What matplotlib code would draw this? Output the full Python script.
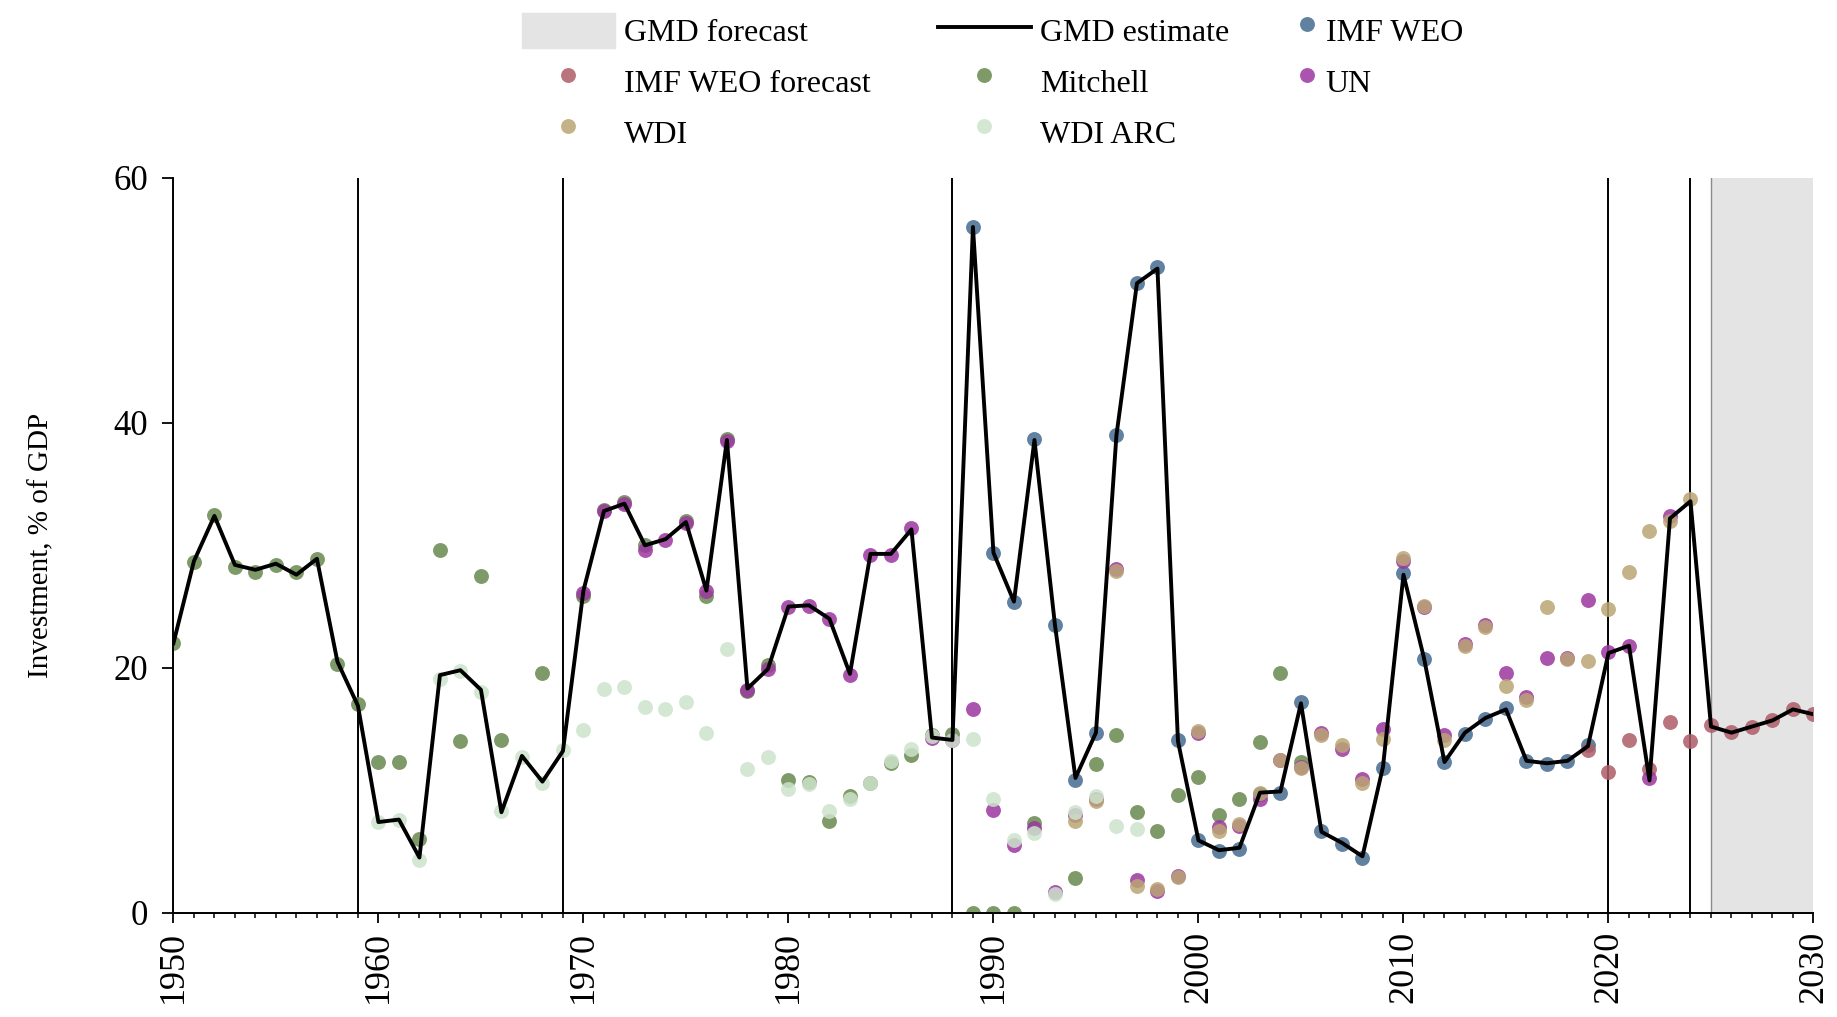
import matplotlib.pyplot as plt
import numpy as np

plt.rcParams['font.family'] = ['Liberation Serif', 'DejaVu Serif']

# GMD estimate, one value per year 1950..2030
gmd_years = np.arange(1950, 2031)
gmd = [22.0, 28.7, 32.4, 28.4, 28.0, 28.5, 27.6, 28.9, 20.5, 16.9,
       7.4, 7.6, 4.5, 19.4, 19.8, 18.2, 8.2, 12.8, 10.7, 13.2,
       26.3, 32.8, 33.4, 30.0, 30.5, 31.9, 26.3, 38.6, 18.3, 19.9,
       25.0, 25.1, 24.0, 19.5, 29.3, 29.3, 31.3, 14.3, 14.1, 56.0,
       29.4, 25.4, 38.6, 23.5, 11.0, 14.7, 39.0, 51.4, 52.6, 14.0,
       5.9, 5.1, 5.3, 9.8, 9.9, 17.1, 6.6, 5.7, 4.6, 11.9,
       27.6, 20.8, 12.3, 14.7, 15.9, 16.6, 12.4, 12.2, 12.4, 13.6,
       21.2, 21.8, 10.8, 32.2, 33.6, 15.2, 14.7, 15.2, 15.7, 16.6,
       16.2]

imf_years = list(range(1989, 2020))
imf = [56.0,
       29.4, 25.4, 38.7, 23.5, 10.8, 14.7, 39.0, 51.4, 52.7, 14.1,
       5.9, 5.0, 5.2, 9.7, 9.8, 17.2, 6.7, 5.6, 4.5, 11.8,
       27.7, 20.75, 12.3, 14.6, 15.8, 16.7, 12.4, 12.1, 12.4, 13.7]

imf_fc_years = list(range(2019, 2031))
imf_fc = [13.3, 11.5, 14.1, 11.7, 15.55, 14.05, 15.3, 14.75, 15.15, 15.75, 16.65, 16.2]

mitchell_years = (list(range(1950, 1967)) + [1968] + list(range(1970, 1974))
                  + list(range(1975, 1993)) + list(range(1994, 2006)))
mitchell = [22.0, 28.6, 32.5, 28.2, 27.8, 28.4, 27.8, 28.9, 20.3, 17.0,
            12.3, 12.3, 6.0, 29.6, 14.0, 27.5, 14.1,
            19.6,
            25.9, 32.9, 33.5, 30.0,
            32.0, 25.9, 38.7, 18.1, 20.2, 10.8, 10.7, 7.5, 9.5, 10.6,
            12.2, 12.9, 14.5, 14.6, 0.0, 0.0, 0.0, 7.35,
            2.8, 12.1, 14.5, 8.2, 6.7, 9.6, 11.1, 8.0, 9.3, 13.9, 19.6, 12.3]

un_years = list(range(1970, 2024))
un = [26.1, 32.8, 33.4, 29.6, 30.4, 31.8, 26.3, 38.5, 18.2, 19.9,
      25.0, 25.05, 24.0, 19.4, 29.2, 29.2, 31.4, 14.3, 14.1, 16.6,
      8.4, 5.5, 6.9, 1.7, 8.0, 9.3, 28.1, 2.7, 1.8, 3.0,
      14.7, 7.0, 7.1, 9.3, 12.5, 11.9, 14.7, 13.4, 10.9, 15.0,
      28.7, 25.0, 14.5, 21.9, 23.5, 19.6, 17.6, 20.8, 20.8, 25.5,
      21.3, 21.8, 11.0, 32.4]

wdi_years = list(range(1994, 2025))
wdi = [7.5, 9.1, 27.9, 2.2, 1.9, 2.9,
       14.8, 6.7, 7.2, 9.8, 12.5, 11.8, 14.5, 13.7, 10.6, 14.2,
       29.0, 25.05, 14.1, 21.8, 23.35, 18.5, 17.4, 25.0, 20.75, 20.55,
       24.8, 27.8, 31.2, 32.0, 33.75]

wdi_arc_years = list(range(1960, 1998))
wdi_arc = [7.4, 7.55, 4.3, 19.1, 19.7, 18.0, 8.3, 12.75, 10.6, 13.3,
           14.9, 18.3, 18.4, 16.8, 16.6, 17.2, 14.7, 21.5, 11.7, 12.7,
           10.1, 10.5, 8.3, 9.3, 10.6, 12.4, 13.4, 14.4, 14.1, 14.2,
           9.3, 5.9, 6.5, 1.5, 8.2, 9.5, 7.1, 6.8]

breaks = [1959, 1969, 1988, 2020, 2024]
forecast_start = 2025

fig = plt.figure(figsize=(18.37, 10.17), dpi=100)
ax = fig.add_axes([0.0944, 0.1026, 0.8928, 0.7224])

ax.axvspan(forecast_start, 2030, color='#e4e4e4', lw=0, zorder=0)
ax.axvline(forecast_start, color='#8a8a8a', lw=1.0, zorder=1)
for b in breaks:
    ax.axvline(b, color='black', lw=1.4, zorder=1)

s = 115
a = 0.85
sc_imf = ax.scatter(imf_years, imf, s=s, color='#456b90', alpha=a, lw=0, zorder=2, label='IMF WEO')
sc_fc = ax.scatter(imf_fc_years, imf_fc, s=s, color='#ad5c66', alpha=a, lw=0, zorder=2, label='IMF WEO forecast')
sc_mit = ax.scatter(mitchell_years, mitchell, s=s, color='#68884e', alpha=a, lw=0, zorder=2, label='Mitchell')
sc_un = ax.scatter(un_years, un, s=s, color='#9c369f', alpha=a, lw=0, zorder=2, label='UN')
sc_wdi = ax.scatter(wdi_years, wdi, s=s, color='#baa574', alpha=a, lw=0, zorder=2, label='WDI')
sc_arc = ax.scatter(wdi_arc_years, wdi_arc, s=s, color='#cce3cc', alpha=a, lw=0, zorder=2, label='WDI ARC')
line, = ax.plot(gmd_years, gmd, color='black', lw=2.8, zorder=3, label='GMD estimate')

ax.set_xlim(1950, 2030)
ax.set_ylim(0, 60)
ax.set_xticks(np.arange(1950, 2031, 10))
ax.set_xticks(np.arange(1950, 2031, 1), minor=True)
ax.set_yticks([0, 20, 40, 60])
ax.tick_params(axis='x', which='major', length=7, width=1.3, labelsize=26, labelrotation=90, pad=6)
ax.tick_params(axis='x', which='minor', length=3.5, width=1.1)
ax.tick_params(axis='y', length=8, width=1.3, labelsize=25, pad=10)
for side in ['top', 'right']:
    ax.spines[side].set_visible(False)
for side in ['left', 'bottom']:
    ax.spines[side].set_linewidth(1.4)
ax.set_ylabel('Investment, % of GDP', fontsize=21, labelpad=43)

patch = plt.Rectangle((0, 0), 1, 1, color='#e4e4e4')
leg_kw = dict(frameon=False, fontsize=23, handleheight=1.3, handletextpad=0.3,
              labelspacing=0.5, borderpad=0, borderaxespad=0,
              scatterpoints=1, scatteryoffsets=[0.5], loc='upper left')
leg1 = fig.legend([patch, sc_fc, sc_wdi, line, sc_mit, sc_arc],
                  ['GMD forecast', 'IMF WEO forecast', 'WDI', 'GMD estimate', 'Mitchell', 'WDI ARC'],
                  ncol=2, bbox_to_anchor=(522 / 1837, 1 - 13 / 1017),
                  handlelength=2.9, columnspacing=2.1, **leg_kw)
leg2 = fig.legend([sc_imf, sc_un], ['IMF WEO', 'UN'],
                  ncol=1, bbox_to_anchor=(1297 / 1837, 1 - 13 / 1017),
                  handlelength=0.6, **leg_kw)

plt.savefig('out.png', dpi=100)
